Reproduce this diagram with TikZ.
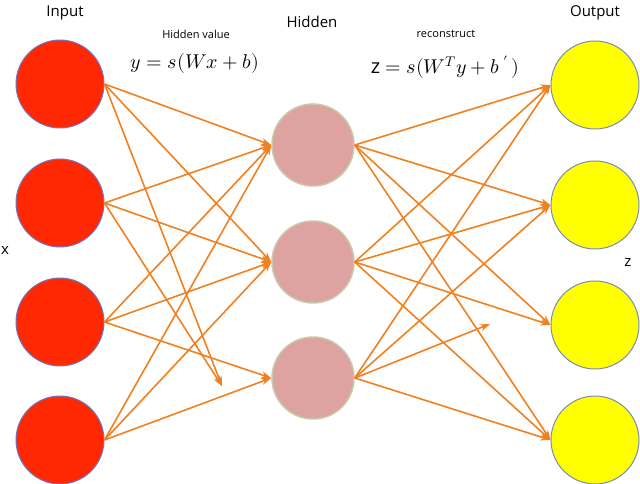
\documentclass[tikz,border=0pt]{standalone}
\usepackage{fontspec}
\setmainfont{Open Sans}
\usepackage{unicode-math}
\setmathfont{Latin Modern Math}
\usetikzlibrary{arrows.meta}
\begin{document}
\begin{tikzpicture}[x=1pt,y=-1pt,
  inp/.style={circle,fill={rgb,255:red,255;green,40;blue,0},draw={rgb,255:red,110;green,120;blue,200},line width=1pt,minimum size=88pt,inner sep=0pt},
  hid/.style={circle,fill={rgb,255:red,222;green,163;blue,160},draw={rgb,255:red,200;green,200;blue,170},line width=1.5pt,minimum size=82pt,inner sep=0pt},
  outp/.style={circle,fill={rgb,255:red,255;green,255;blue,0},draw={rgb,255:red,120;green,140;blue,180},line width=1pt,minimum size=88pt,inner sep=0pt},
  con/.style={draw={rgb,255:red,240;green,128;blue,32},line width=1.6pt,-{Stealth[length=10pt,width=7pt]}},
  lab/.style={inner sep=0pt,font=\fontsize{15}{17}\selectfont},
  sm/.style={inner sep=0pt,font=\fontsize{11}{13}\selectfont}]
\useasboundingbox (0,0) rectangle (640,484);
\clip (0,0) rectangle (640,484);
\foreach \i/\y in {1/84,2/203,3/322,4/440} \node[inp] (i\i) at (60,\y) {};
\foreach \i/\y in {1/145,2/262,3/378} \node[hid] (h\i) at (313,\y) {};
\foreach \i/\y in {1/85,2/205,3/325,4/440} \node[outp] (o\i) at (595,\y) {};
\coordinate (e1) at (222,386);
\coordinate (e2) at (490,324);
\foreach \a/\b in {i1/h1,i1/h2,i1/e1,i2/h1,i2/h2,i2/e1,i3/h1,i3/h2,i3/h3,i4/h1,i4/h2,i4/h3}
  \draw[con] (\a.east) -- (\b.west);
\foreach \a/\b in {h1/o1,h1/o2,h1/o3,h1/o4,h2/o1,h2/o2,h2/o3,h2/o4,h3/o1,h3/o2,h3/o4}
  \draw[con] (\a.east) -- (\b.west);
\draw[con] (h3.east) -- (e2);
\node[lab] (tin) at (65,13) {Input};
\node[lab] (thid) at (312,22) {Hidden};
\node[lab] (tout) at (595,13) {Output};
\node[sm] (thv) at (196,34) {Hidden value};
\node[sm] (trc) at (446,34) {reconstruct};
\node[inner sep=0pt,font=\fontsize{20}{22}\selectfont] (f1) at (195,64) {$y=s(Wx+b)$};
\node[inner sep=0pt,font=\fontsize{20}{22}\selectfont] (f2) at (445,67) {z $=s(W^Ty+b\,'\,)$};
\node[lab] (tx) at (5,250) {x};
\node[lab] (tz) at (628,262) {z};
\end{tikzpicture}
\end{document}
